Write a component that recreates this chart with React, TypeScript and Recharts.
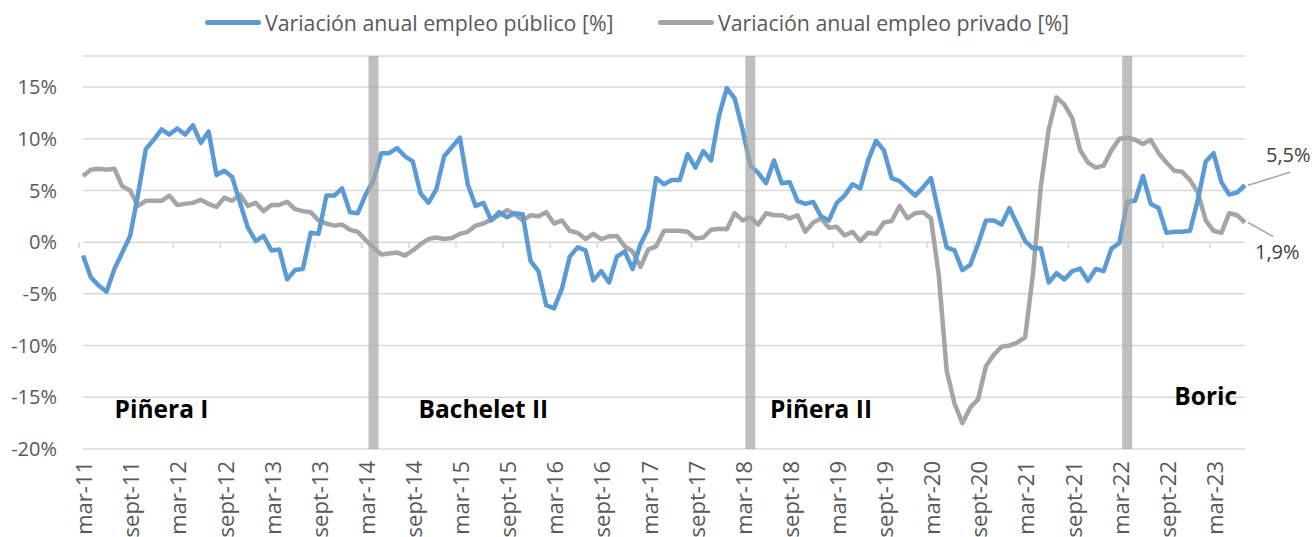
import React from "react";
import {
  LineChart,
  Line,
  XAxis,
  YAxis,
  CartesianGrid,
  ReferenceLine,
  ReferenceDot,
  LabelList,
} from "recharts";

const FONT = "'Open Sans', 'DejaVu Sans', sans-serif";
const BLUE = "#5b9bd5";
const GRAY = "#a5a5a5";

const MONTHS = ["ene", "feb", "mar", "abr", "may", "jun", "jul", "ago", "sept", "oct", "nov", "dic"];

// variación anual empleo público, mar-11 .. jul-23
const PUBLICO = [
  -1.3, -3.4, -4.2, -4.8, -2.6, -1.0, 0.6, 4.6, 9.0, 9.9,
  10.9, 10.4, 11.0, 10.4, 11.3, 9.6, 10.7, 6.5, 6.9, 6.3,
  3.8, 1.4, 0.1, 0.6, -0.8, -0.7, -3.6, -2.7, -2.6, 0.9,
  0.8, 4.5, 4.5, 5.2, 2.9, 2.8, 4.6, 6.0, 8.6, 8.6,
  9.1, 8.3, 7.8, 4.7, 3.8, 5.1, 8.3, 9.2, 10.1, 5.6,
  3.5, 3.8, 2.1, 2.9, 2.4, 2.8, 2.7, -1.8, -2.8, -6.1,
  -6.4, -4.5, -1.4, -0.5, -0.8, -3.7, -2.8, -3.9, -1.4, -0.9,
  -2.6, -0.2, 1.3, 6.2, 5.6, 6.0, 6.0, 8.5, 7.2, 8.8,
  7.9, 12.2, 14.9, 13.9, 10.9, 7.4, 6.7, 5.7, 7.9, 5.7,
  5.8, 4.0, 3.7, 3.9, 2.5, 2.1, 3.8, 4.5, 5.6, 5.2,
  7.9, 9.8, 8.9, 6.2, 5.9, 5.2, 4.5, 5.3, 6.2, 2.8,
  -0.5, -0.8, -2.7, -2.2, -0.2, 2.1, 2.1, 1.7, 3.3, 1.7,
  0.1, -0.6, -0.6, -3.9, -3.0, -3.6, -2.8, -2.55, -3.75, -2.6,
  -2.8, -0.6, -0.1, 3.9, 4.0, 6.4, 3.7, 3.3, 0.9, 1.0,
  1.0, 1.1, 4.1, 7.8, 8.6, 5.8, 4.6, 4.8, 5.5,
];

// variación anual empleo privado
const PRIVADO = [
  6.4, 7.0, 7.1, 7.0, 7.1, 5.4, 5.0, 3.5, 4.0, 4.0,
  4.0, 4.5, 3.6, 3.7, 3.8, 4.1, 3.7, 3.4, 4.3, 4.0,
  4.6, 3.5, 3.8, 3.0, 3.6, 3.6, 3.9, 3.2, 3.0, 2.9,
  2.1, 1.8, 1.6, 1.7, 1.2, 1.0, 0.2, -0.5, -1.2, -1.1,
  -1.0, -1.3, -0.8, -0.2, 0.3, 0.45, 0.3, 0.4, 0.8, 1.0,
  1.6, 1.8, 2.2, 2.6, 3.1, 2.7, 2.1, 2.6, 2.5, 2.9,
  1.8, 2.1, 1.1, 0.9, 0.3, 0.8, 0.3, 0.55, 0.6, -0.4,
  -0.9, -2.4, -0.7, -0.4, 1.1, 1.1, 1.1, 1.0, 0.35, 0.45,
  1.2, 1.3, 1.25, 2.8, 2.1, 2.4, 1.7, 2.8, 2.6, 2.6,
  2.3, 2.6, 1.0, 1.9, 2.3, 1.4, 1.5, 0.65, 1.0, 0.1,
  0.9, 0.8, 1.9, 2.05, 3.5, 2.3, 2.8, 2.9, 2.3, -3.2,
  -12.4, -15.6, -17.5, -16.0, -15.2, -12.0, -10.9, -10.1, -10.0, -9.7,
  -9.2, -3.0, 5.4, 10.9, 14.0, 13.3, 12.0, 8.9, 7.7, 7.2,
  7.4, 8.9, 10.0, 10.1, 9.9, 9.5, 9.9, 8.6, 7.7, 6.9,
  6.8, 6.0, 4.8, 2.1, 1.1, 0.9, 2.8, 2.6, 1.9,
];

const Y_TICKS = [-20, -15, -10, -5, 0, 5, 10, 15];

// cambios de gobierno (barras verticales)
const GOV_CHANGES = ["abr-14", "abr-18", "abr-22"];

const GOVERNMENTS = [
  { name: "Piñera I", at: "ene-12", y: -16.2 },
  { name: "Bachelet II", at: "jun-15", y: -16.2 },
  { name: "Piñera II", at: "ene-19", y: -16.2 },
  { name: "Boric", at: "feb-23", y: -14.9 },
];

const SERIES = [
  { key: "publico", name: "Variación anual empleo público [%]", color: BLUE },
  { key: "privado", name: "Variación anual empleo privado [%]", color: GRAY },
];

const categories = PUBLICO.map((_, i) => {
  const m = 2 + i;
  return `${MONTHS[m % 12]}-${11 + Math.floor(m / 12)}`;
});

const data = categories.map((mes, i) => ({
  mes,
  publico: PUBLICO[i],
  privado: PRIVADO[i],
}));

const W = 1312;
const H = 537;
const Y_W = 83;
const MARGIN = { top: 56, right: 67, bottom: 0, left: 0 };
const HALF_STEP = (W - Y_W - MARGIN.right) / categories.length / 2;

const fmt = (v: number) => v.toFixed(1).replace(".", ",") + "%";

const XTick = (props: any) => {
  const { x, y, payload } = props;
  return (
    <text
      x={x}
      y={y}
      transform={`rotate(-90, ${x}, ${y})`}
      textAnchor="end"
      dy="0.42em"
      fontSize={22}
      fill="#595959"
      fontFamily={FONT}
    >
      {payload.value}
    </text>
  );
};

const endLabel = (dx: number, dy: number, tx: number, ty: number) => (props: any) => {
  const { x, y, index, value } = props;
  if (index !== data.length - 1) return null;
  return (
    <g>
      <line x1={x + 3} y1={y} x2={x + dx} y2={y + dy} stroke="#a6a6a6" strokeWidth={1.5} />
      <text x={x + tx} y={y + ty} fontSize={20} fill="#404040" fontFamily={FONT}>
        {fmt(value)}
      </text>
    </g>
  );
};

const TickMark = (p: any) => (
  <line x1={p.x1 - HALF_STEP} y1={p.y1} x2={p.x2 - HALF_STEP} y2={p.y2} stroke="#d9d9d9" strokeWidth={1.5} />
);

export default function App() {
  return (
    <div style={{ position: "absolute", left: 0, top: 0, width: W, height: H, background: "#fff" }}>
      <LineChart width={W} height={H} data={data} margin={MARGIN}>
        <CartesianGrid vertical={false} stroke="#d9d9d9" strokeWidth={1.5} />
        <XAxis
          dataKey="mes"
          interval={5}
          axisLine={false}
          tickLine={false}
          tickSize={0}
          tickMargin={12}
          height={88}
          tick={<XTick />}
        />
        <YAxis
          domain={[-20, 18]}
          ticks={Y_TICKS}
          width={Y_W}
          axisLine={false}
          tickLine={false}
          tickSize={0}
          tickMargin={26}
          tickFormatter={(v) => `${v}%`}
          tick={{ fontSize: 20, fill: "#595959", fontFamily: FONT }}
        />
        {categories
          .filter((_, i) => i % 6 === 0)
          .map((c) => (
            <ReferenceLine
              key={"t" + c}
              segment={[{ x: c, y: 0 }, { x: c, y: -0.6 }]}
              shape={TickMark}
            />
          ))}
        <Line
          type="linear"
          dataKey="privado"
          name={SERIES[1].name}
          stroke={GRAY}
          strokeWidth={4.5}
          strokeLinejoin="round"
          dot={false}
          isAnimationActive={false}
        >
          <LabelList dataKey="privado" content={endLabel(28, 14, 10, 36)} />
        </Line>
        <Line
          type="linear"
          dataKey="publico"
          name={SERIES[0].name}
          stroke={BLUE}
          strokeWidth={4.5}
          strokeLinejoin="round"
          dot={false}
          isAnimationActive={false}
        >
          <LabelList dataKey="publico" content={endLabel(45, -13, 21, -23)} />
        </Line>
        {GOV_CHANGES.map((c) => (
          <ReferenceLine key={c} x={c} stroke="#a6a6a6" strokeOpacity={0.72} strokeWidth={10} />
        ))}
        {GOVERNMENTS.map((g) => (
          <ReferenceDot
            key={g.name}
            x={g.at}
            y={g.y}
            r={0}
            stroke="none"
            fill="none"
            label={{
              value: g.name,
              position: "center",
              fontSize: 24.5,
              fontWeight: 700,
              fill: "#000",
              fontFamily: FONT,
            }}
          />
        ))}
      </LineChart>
      {SERIES.map((s, i) => (
        <div
          key={s.key}
          style={{
            position: "absolute",
            top: 8,
            left: i === 0 ? 205 : 658,
            display: "flex",
            alignItems: "center",
            height: 28,
            fontFamily: FONT,
            fontSize: 21.3,
            color: "#595959",
            whiteSpace: "nowrap",
          }}
        >
          <span
            style={{
              display: "inline-block",
              width: 56,
              height: 5,
              borderRadius: 3,
              background: s.color,
              marginRight: 4,
            }}
          />
          {s.name}
        </div>
      ))}
    </div>
  );
}
